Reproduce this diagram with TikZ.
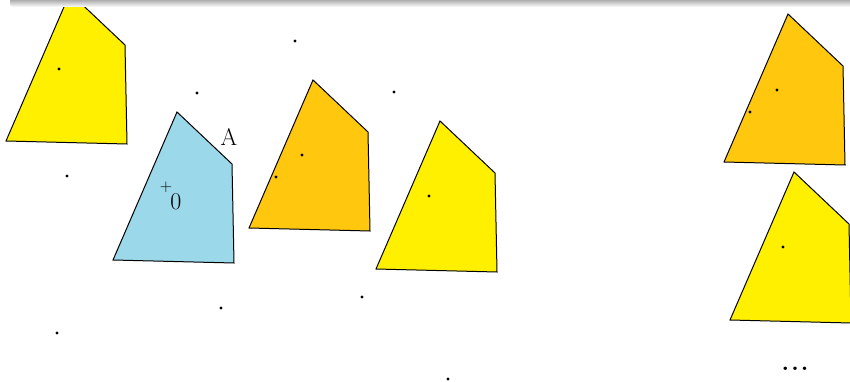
\documentclass[tikz,border=0pt]{standalone}
\usetikzlibrary{shadings}
\definecolor{bluec}{RGB}{155,216,234}
\definecolor{orangec}{RGB}{255,200,14}
\definecolor{yellowc}{RGB}{255,240,0}
\tikzset{
  quad/.pic={\draw[pic actions, line width=1pt, line join=miter] (0,0)--(55,52)--(57,151)--(-64,148)--cycle;},
  pt/.style={fill=black, circle, inner sep=0pt, minimum size=3.2pt},
  lbl/.style={font=\fontsize{24}{28}\selectfont, inner sep=0pt}
}
\begin{document}
\begin{tikzpicture}[x=1pt,y=-1pt]
\useasboundingbox (0,0) rectangle (850,382);
\clip (0,0) rectangle (850,382);
% polygons
\pic[fill=yellowc] at (70,-7) {quad};
\pic[fill=bluec] at (177,112) {quad};
\pic[fill=orangec] at (313,80) {quad};
\pic[fill=yellowc] at (440,121) {quad};
\pic[fill=orangec] at (788,14) {quad};
\pic[fill=yellowc] at (794,172) {quad};
% dots inside polygons
\node[pt] (d1) at (59,69) {};
\node[pt] (d2) at (302,155) {};
\node[pt] (d3) at (276,177) {};
\node[pt] (d4) at (429,196) {};
\node[pt] (d5) at (777,90) {};
\node[pt] (d6) at (750,112) {};
\node[pt] (d7) at (783,247) {};
% scattered dots
\node[pt] (s1) at (295,41) {};
\node[pt] (s2) at (197,93) {};
\node[pt] (s3) at (394,92) {};
\node[pt] (s4) at (67,176) {};
\node[pt] (s5) at (221,308) {};
\node[pt] (s6) at (362,297) {};
\node[pt] (s7) at (57,333) {};
\node[pt] (s8) at (448,379) {};
% labels
\node[lbl] (la) at (229,137) {A};
\node[inner sep=0pt, font=\fontsize{17}{20}\selectfont] (plus) at (166,187) {+};
\node[lbl] (l0) at (176,202) {0};
\node[inner sep=0pt, font=\bfseries\fontsize{24}{28}\selectfont, anchor=base] (dots) at (795,370) {.\kern2pt.\kern2pt.};
% top shadow bar
\shade[top color=black!50, bottom color=white, rounded corners=3pt] (10,-4) rectangle (860,7);
\end{tikzpicture}
\end{document}
